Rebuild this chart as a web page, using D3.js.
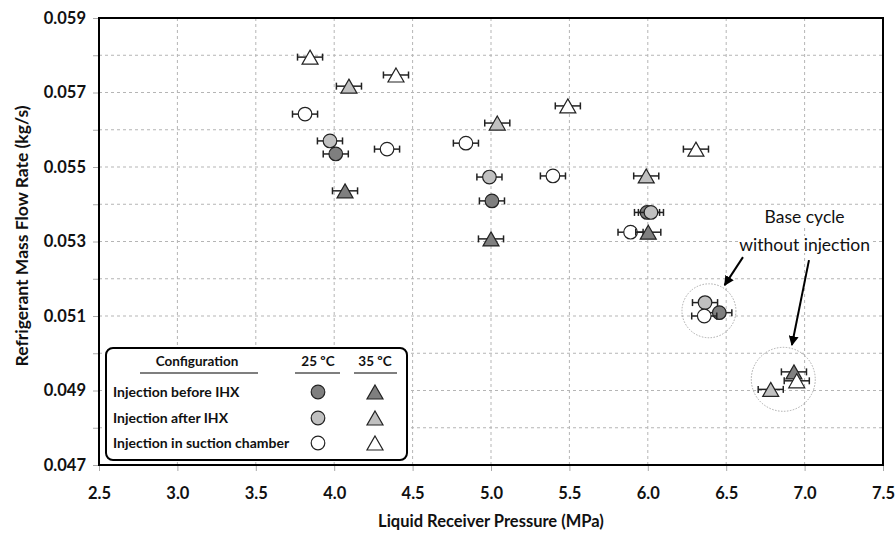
<!DOCTYPE html>
<html>
<head>
<meta charset="utf-8">
<script src="https://cdn.jsdelivr.net/npm/d3@7"></script>
<style>
  body { margin: 0; background: #fff; }
  text { font-family: Lato, "Open Sans", sans-serif; }
</style>
</head>
<body>
<svg id="chart" width="896" height="536"></svg>
<script>
// data
var configs = ["Injection before IHX", "Injection after IHX", "Injection in suction chamber"];
var temps = ["25 ºC", "35 ºC"];

var before25_p = [4.01, 5.006, 5.995, 6.456];
var before25_m = [0.05535, 0.05409, 0.05378, 0.05109];
var after25_p = [3.973, 4.99, 6.02, 6.365];
var after25_m = [0.0557, 0.05473, 0.05378, 0.05136];
var suction25_p = [3.814, 4.337, 4.84, 5.395, 5.89, 6.36];
var suction25_m = [0.05642, 0.05548, 0.05564, 0.05476, 0.05325, 0.0510];
var before35_p = [4.069, 5.0, 6.003, 6.932];
var before35_m = [0.05436, 0.05307, 0.05325, 0.0495];
var after35_p = [4.094, 5.04, 5.99, 6.784];
var after35_m = [0.05717, 0.05618, 0.05476, 0.04903];
var suction35_p = [3.846, 4.394, 5.49, 6.307, 6.95];
var suction35_m = [0.05795, 0.05747, 0.05664, 0.05548, 0.04926];

var errP = 0.08; // MPa, horizontal error bars

var xTicks = [2.5, 3.0, 3.5, 4.0, 4.5, 5.0, 5.5, 6.0, 6.5, 7.0, 7.5];
var yTicks = [0.047, 0.048, 0.049, 0.050, 0.051, 0.052, 0.053, 0.054, 0.055, 0.056, 0.057, 0.058, 0.059];

var fills = ["#7f7f7f", "#c0c0c0", "#ffffff"];

var margin = { top: 18, right: 13, bottom: 71, left: 99 },
    width = 896 - margin.left - margin.right,
    height = 536 - margin.top - margin.bottom;

var svg = d3.select("#chart");
var g = svg.append("g").attr("transform", "translate(" + margin.left + "," + margin.top + ")");

var x = d3.scaleLinear().domain([2.5, 7.5]).range([0, width]);
var y = d3.scaleLinear().domain([0.047, 0.059]).range([height, 0]);

// grid
g.append("g").selectAll("line").data(xTicks).enter().append("line")
    .attr("x1", d => x(d)).attr("x2", d => x(d))
    .attr("y1", 0).attr("y2", height)
    .attr("stroke", "#b5b5b5").attr("stroke-dasharray", "3,3");
g.append("g").selectAll("line").data(yTicks).enter().append("line")
    .attr("x1", 0).attr("x2", width)
    .attr("y1", d => y(d)).attr("y2", d => y(d))
    .attr("stroke", "#b5b5b5").attr("stroke-dasharray", "3,3");

// axes
var xAxis = g.append("g")
    .attr("transform", "translate(0," + height + ")")
    .call(d3.axisBottom(x).tickValues(xTicks).tickSize(6).tickPadding(16).tickFormat(d3.format(".1f")));
var yAxis = g.append("g")
    .call(d3.axisLeft(y).tickValues(yTicks).tickSize(6).tickPadding(7)
        .tickFormat(d => (Math.round(d * 1000) % 2 === 1) ? d3.format(".3f")(d) : ""));
[xAxis, yAxis].forEach(function(a) {
    a.select(".domain").remove();
    a.selectAll(".tick line").attr("stroke", "#aaa");
    a.selectAll(".tick text").attr("fill", "#111").style("font-size", "16.5px").style("font-weight", "bold");
});

// border
g.append("rect").attr("width", width).attr("height", height)
    .attr("fill", "none").attr("stroke", "#000").attr("stroke-width", 2);

// axis titles
svg.append("text")
    .attr("x", margin.left + width / 2).attr("y", 527)
    .attr("text-anchor", "middle")
    .style("font-size", "16.5px").style("font-weight", "bold").attr("fill", "#111")
    .text("Liquid Receiver Pressure (MPa)");
svg.append("text")
    .attr("transform", "translate(28,236) rotate(-90)")
    .attr("text-anchor", "middle")
    .style("font-size", "17.5px").style("font-weight", "bold").attr("fill", "#111")
    .text("Refrigerant Mass Flow Rate (kg/s)");

// marker helpers
function triPath(w, h) {
    return "M0," + (-h / 2) + "L" + (w / 2) + "," + (h / 2) + "L" + (-w / 2) + "," + (h / 2) + "Z";
}
function drawMarker(sel, shape, fill) {
    if (shape === "circle") {
        sel.append("circle").attr("r", 6.8)
            .attr("fill", fill).attr("stroke", "#222").attr("stroke-width", 1.2);
    } else {
        sel.append("path").attr("d", triPath(16, 14))
            .attr("fill", fill).attr("stroke", "#222").attr("stroke-width", 1.2)
            .attr("stroke-linejoin", "miter");
    }
}

// annotation circles (behind points)
var ann = g.append("g");
[[6.39, 0.05114, 0.172], [6.864, 0.0493, 0.204]].forEach(function(c) {
    ann.append("circle")
        .attr("cx", x(c[0])).attr("cy", y(c[1]))
        .attr("r", x(c[0] + c[2]) - x(c[0]))
        .attr("fill", "none").attr("stroke", "#aaa").attr("stroke-width", 1)
        .attr("stroke-dasharray", "1.5,1.5");
});

var series = [
    { p: before25_p, m: before25_m, shape: "circle", fill: fills[0] },
    { p: after25_p, m: after25_m, shape: "circle", fill: fills[1] },
    { p: suction25_p, m: suction25_m, shape: "circle", fill: fills[2] },
    { p: before35_p, m: before35_m, shape: "triangle", fill: fills[0] },
    { p: after35_p, m: after35_m, shape: "triangle", fill: fills[1] },
    { p: suction35_p, m: suction35_m, shape: "triangle", fill: fills[2] }
];

series.forEach(function(s) {
    var pts = s.p.map((p, i) => ({ p: p, m: s.m[i] }));
    var pg = g.append("g").selectAll("g").data(pts).enter().append("g");
    pg.each(function(d) {
        var e = d3.select(this);
        var cy = y(d.m);
        e.append("line").attr("x1", x(d.p - errP)).attr("x2", x(d.p + errP))
            .attr("y1", cy).attr("y2", cy).attr("stroke", "#222").attr("stroke-width", 1.5);
        [d.p - errP, d.p + errP].forEach(function(v) {
            e.append("line").attr("x1", x(v)).attr("x2", x(v))
                .attr("y1", cy - 3.5).attr("y2", cy + 3.5).attr("stroke", "#222").attr("stroke-width", 1.5);
        });
        var mk = e.append("g").attr("transform", "translate(" + x(d.p) + "," + cy + ")");
        drawMarker(mk, s.shape, s.fill);
    });
});

// annotation text + arrows
var defs = svg.append("defs");
defs.append("marker").attr("id", "arrow").attr("viewBox", "0 0 10 10")
    .attr("refX", 9).attr("refY", 5).attr("markerWidth", 5).attr("markerHeight", 5)
    .attr("orient", "auto")
    .append("path").attr("d", "M0,0L10,5L0,10Z").attr("fill", "#000");

[[6.607, 0.05258, 6.49, 0.05183], [7.028, 0.0525, 6.919, 0.05022]].forEach(function(a) {
    g.append("line")
        .attr("x1", x(a[0])).attr("y1", y(a[1]))
        .attr("x2", x(a[2])).attr("y2", y(a[3]))
        .attr("stroke", "#000").attr("stroke-width", 2)
        .attr("marker-end", "url(#arrow)");
});

var annLines = ["Base cycle", "without injection"];
var annY = [0.05366, 0.05291];
annLines.forEach(function(t, i) {
    var tx = g.append("text")
        .attr("x", x(7.0)).attr("y", y(annY[i])).attr("dy", "0.35em")
        .attr("text-anchor", "middle")
        .style("font-size", "17.5px").attr("fill", "#111")
        .text(t);
    var bb = tx.node().getBBox();
    g.insert("rect", function() { return tx.node(); })
        .attr("x", bb.x - 1).attr("y", bb.y + 2).attr("width", bb.width + 2).attr("height", bb.height - 4)
        .attr("fill", "#fff");
});

// legend
var lg = svg.append("g").attr("transform", "translate(106,348)");
lg.append("rect").attr("width", 301).attr("height", 112).attr("rx", 7)
    .attr("fill", "#fff").attr("stroke", "#000").attr("stroke-width", 2);

var headers = [{ t: "Configuration", cx: 91, x1: 34, x2: 152 },
               { t: temps[0], cx: 212, x1: 189, x2: 234 },
               { t: temps[1], cx: 269, x1: 248, x2: 291 }];
headers.forEach(function(h) {
    lg.append("text").attr("x", h.cx).attr("y", 18)
        .attr("text-anchor", "middle").style("font-size", "13.5px").style("font-weight", "bold")
        .attr("fill", "#111").text(h.t);
    lg.append("line").attr("x1", h.x1).attr("x2", h.x2).attr("y1", 25).attr("y2", 25)
        .attr("stroke", "#000").attr("stroke-width", 1.2);
});

var rowY = [44, 70, 95];
configs.forEach(function(c, i) {
    lg.append("text").attr("x", 7).attr("y", rowY[i]).attr("dy", "0.35em")
        .style("font-size", "14px").style("font-weight", "bold").attr("fill", "#111").text(c);
    drawMarker(lg.append("g").attr("transform", "translate(212," + rowY[i] + ")"), "circle", fills[i]);
    drawMarker(lg.append("g").attr("transform", "translate(269," + rowY[i] + ")"), "triangle", fills[i]);
});
</script>
</body>
</html>
